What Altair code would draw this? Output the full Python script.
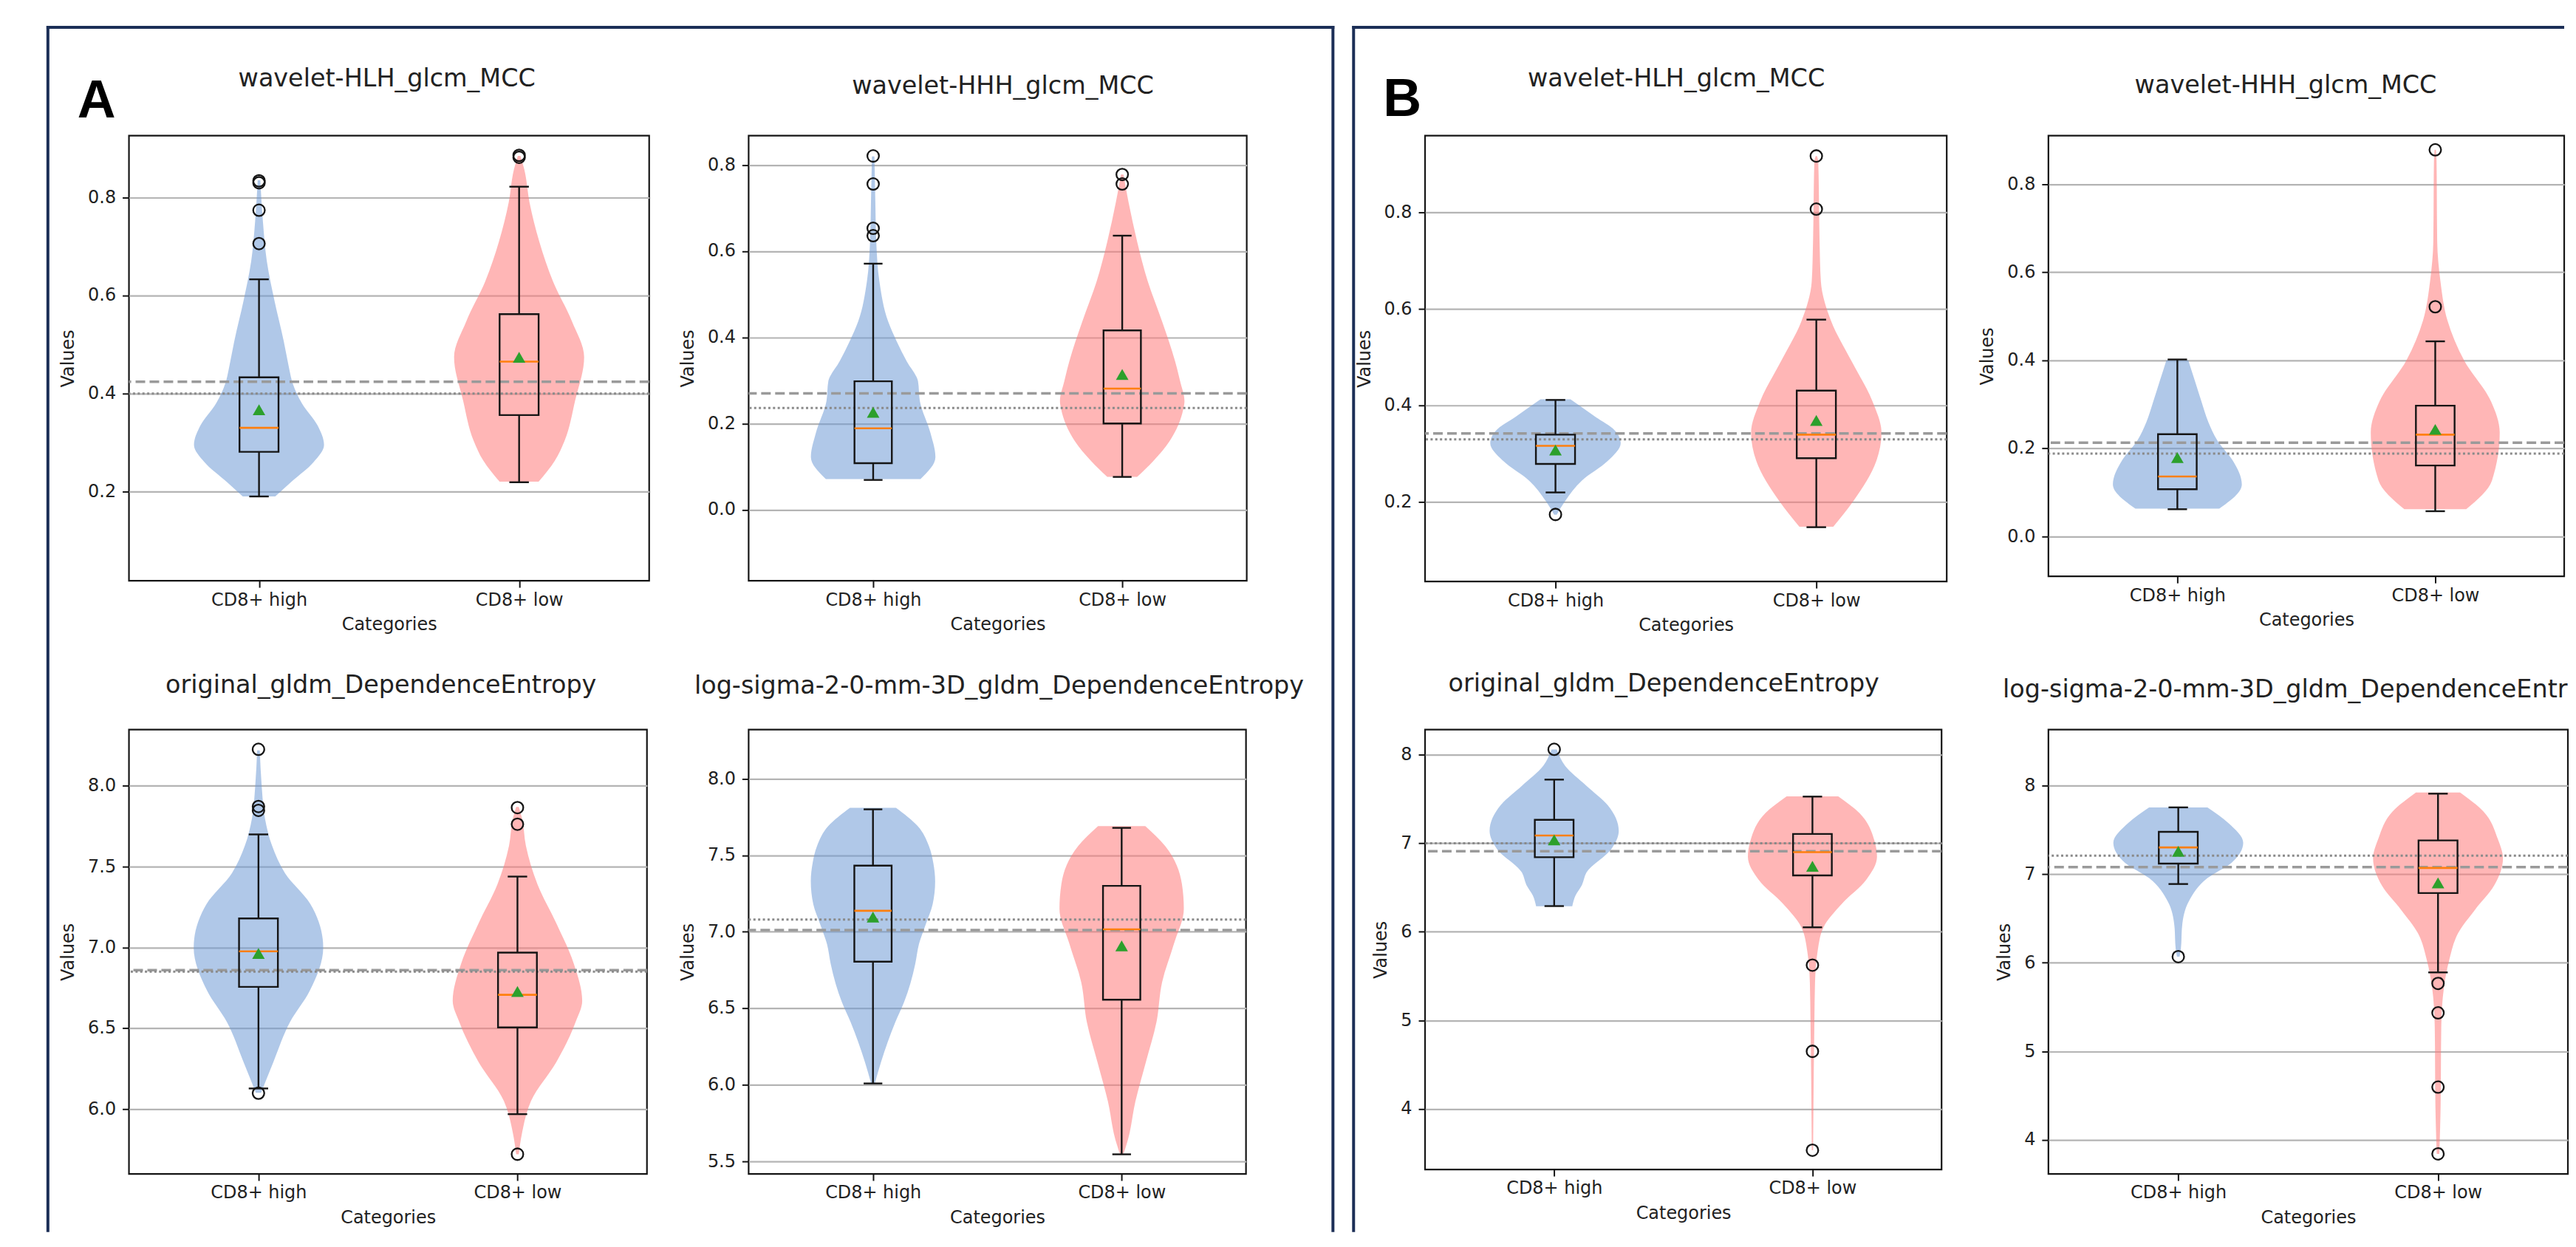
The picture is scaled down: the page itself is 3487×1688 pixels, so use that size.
import altair as alt
import pandas as pd

# ---------------- data ----------------
CATEGORIES = ["CD8+ high", "CD8+ low"]
POSITIONS = [1, 2]
COHORT_LABELS = ["A", "B"]
X_TITLE = "Categories"
Y_TITLE = "Values"
FEATURES = [
    "wavelet-HLH_glcm_MCC",
    "wavelet-HHH_glcm_MCC",
    "original_gldm_DependenceEntropy",
    "log-sigma-2-0-mm-3D_gldm_DependenceEntropy",
]

# stats order: lower whisker, Q1, median, Q3, upper whisker, mean
# violin profiles: (value, relative half-width 0..1)
# reference lines: (dashed, dotted)

# ---- cohort A ----
A_HLH_DOMAIN = [0.018, 0.926]
A_HLH_TICKS = [0.2, 0.4, 0.6, 0.8]
A_HLH_HIGH_STATS = [0.190, 0.281, 0.330, 0.433, 0.633, 0.367]
A_HLH_LOW_STATS = [0.219, 0.356, 0.465, 0.562, 0.822, 0.474]
A_HLH_HIGH_OUT = [0.706, 0.774, 0.830, 0.834]
A_HLH_LOW_OUT = [0.882, 0.886]
A_HLH_HIGH_VIOLIN = [(0.19, 0.25), (0.22, 0.5), (0.26, 0.84), (0.295, 1.0), (0.335, 0.9), (0.38, 0.66),
                     (0.42, 0.52), (0.46, 0.45), (0.507, 0.38), (0.588, 0.24), (0.67, 0.12), (0.751, 0.06),
                     (0.835, 0.02)]
A_HLH_LOW_VIOLIN = [(0.22, 0.3), (0.263, 0.55), (0.304, 0.7), (0.385, 0.86), (0.474, 1.0), (0.548, 0.81),
                    (0.629, 0.52), (0.71, 0.31), (0.79, 0.16), (0.857, 0.08), (0.885, 0.02)]
A_HLH_REF = [0.424, 0.400]

A_HHH_DOMAIN = [-0.165, 0.868]
A_HHH_TICKS = [0.0, 0.2, 0.4, 0.6, 0.8]
A_HHH_HIGH_STATS = [0.069, 0.108, 0.189, 0.298, 0.571, 0.226]
A_HHH_LOW_STATS = [0.076, 0.200, 0.281, 0.416, 0.636, 0.314]
A_HHH_HIGH_OUT = [0.636, 0.653, 0.756, 0.821]
A_HHH_LOW_OUT = [0.756, 0.778]
A_HHH_HIGH_VIOLIN = [(0.071, 0.76), (0.122, 1.0), (0.178, 0.92), (0.252, 0.75), (0.298, 0.72), (0.344, 0.54),
                     (0.39, 0.38), (0.437, 0.24), (0.53, 0.1), (0.622, 0.05), (0.715, 0.035), (0.82, 0.02)]
A_HHH_LOW_VIOLIN = [(0.076, 0.24), (0.113, 0.5), (0.159, 0.76), (0.233, 0.98), (0.252, 1.0), (0.298, 0.93),
                    (0.344, 0.85), (0.437, 0.64), (0.53, 0.41), (0.622, 0.24), (0.715, 0.1), (0.778, 0.02)]
A_HHH_REF = [0.270, 0.236]

A_ORIG_DOMAIN = [5.598, 8.349]
A_ORIG_TICKS = [6.0, 6.5, 7.0, 7.5, 8.0]
A_ORIG_HIGH_STATS = [6.127, 6.756, 6.976, 7.180, 7.700, 6.963]
A_ORIG_LOW_STATS = [5.968, 6.505, 6.707, 6.968, 7.439, 6.727]
A_ORIG_HIGH_OUT = [6.098, 7.849, 7.873, 8.227]
A_ORIG_LOW_OUT = [5.720, 7.763, 7.866]
A_ORIG_HIGH_VIOLIN = [(6.10, 0.04), (6.29, 0.23), (6.54, 0.49), (6.73, 0.79), (7.0, 1.0), (7.27, 0.8),
                      (7.46, 0.41), (7.63, 0.21), (7.80, 0.1), (8.0, 0.05), (8.22, 0.02)]
A_ORIG_LOW_VIOLIN = [(5.72, 0.02), (5.85, 0.07), (6.05, 0.21), (6.29, 0.6), (6.54, 0.9), (6.67, 1.0),
                     (6.90, 0.87), (7.15, 0.6), (7.39, 0.31), (7.63, 0.13), (7.80, 0.07), (7.87, 0.02)]
A_ORIG_REF = [6.859, 6.850]

A_LOG_DOMAIN = [5.418, 8.321]
A_LOG_TICKS = [5.5, 6.0, 6.5, 7.0, 7.5, 8.0]
A_LOG_HIGH_STATS = [6.009, 6.805, 7.137, 7.432, 7.800, 7.096]
A_LOG_LOW_STATS = [5.546, 6.556, 7.016, 7.300, 7.679, 6.908]
A_LOG_HIGH_OUT = []
A_LOG_LOW_OUT = []
A_LOG_HIGH_VIOLIN = [(6.01, 0.03), (6.15, 0.13), (6.41, 0.36), (6.54, 0.5), (6.66, 0.6), (6.79, 0.68),
                     (6.92, 0.74), (7.05, 0.85), (7.18, 0.96), (7.33, 1.0), (7.45, 0.97), (7.56, 0.9),
                     (7.69, 0.72), (7.81, 0.37)]
A_LOG_LOW_VIOLIN = [(5.55, 0.03), (5.64, 0.1), (5.89, 0.22), (6.15, 0.39), (6.41, 0.56), (6.67, 0.65),
                    (6.92, 0.84), (7.15, 1.0), (7.31, 0.97), (7.56, 0.7), (7.69, 0.38)]
A_LOG_REF = [7.011, 7.080]

# ---- cohort B ----
B_HLH_DOMAIN = [0.0355, 0.959]
B_HLH_TICKS = [0.2, 0.4, 0.6, 0.8]
B_HLH_HIGH_STATS = [0.220, 0.279, 0.3165, 0.3397, 0.4116, 0.308]
B_HLH_LOW_STATS = [0.148, 0.291, 0.3397, 0.431, 0.578, 0.369]
B_HLH_HIGH_OUT = [0.1744]
B_HLH_LOW_OUT = [0.807, 0.917]
B_HLH_HIGH_VIOLIN = [(0.174, 0.02), (0.2025, 0.15), (0.244, 0.4), (0.285, 0.8), (0.322, 1.0), (0.35, 0.9),
                     (0.376, 0.62), (0.413, 0.23)]
B_HLH_LOW_VIOLIN = [(0.149, 0.26), (0.2025, 0.57), (0.285, 0.92), (0.343, 1.0), (0.409, 0.86), (0.492, 0.54),
                    (0.574, 0.23), (0.657, 0.07), (0.74, 0.05), (0.905, 0.03), (0.917, 0.01)]
B_HLH_REF = [0.342, 0.330]

B_HHH_DOMAIN = [-0.0907, 0.910]
B_HHH_TICKS = [0.0, 0.2, 0.4, 0.6, 0.8]
B_HHH_HIGH_STATS = [0.0617, 0.107, 0.136, 0.232, 0.4018, 0.179]
B_HHH_LOW_STATS = [0.0572, 0.161, 0.231, 0.297, 0.443, 0.243]
B_HHH_HIGH_OUT = []
B_HHH_LOW_OUT = [0.5215, 0.878]
B_HHH_HIGH_VIOLIN = [(0.063, 0.65), (0.118, 1.0), (0.172, 0.86), (0.218, 0.62), (0.26, 0.48), (0.308, 0.37),
                     (0.354, 0.27), (0.40, 0.17)]
B_HHH_LOW_VIOLIN = [(0.0617, 0.48), (0.127, 0.88), (0.236, 1.0), (0.308, 0.86), (0.399, 0.45), (0.49, 0.19),
                    (0.58, 0.08), (0.67, 0.03), (0.853, 0.02), (0.878, 0.01)]
B_HHH_REF = [0.213, 0.188]

B_ORIG_DOMAIN = [3.315, 8.285]
B_ORIG_TICKS = [4, 5, 6, 7, 8]
B_ORIG_HIGH_STATS = [6.291, 6.843, 7.088, 7.266, 7.720, 7.039]
B_ORIG_LOW_STATS = [6.051, 6.638, 6.900, 7.106, 7.528, 6.740]
B_ORIG_HIGH_OUT = [8.062]
B_ORIG_LOW_OUT = [3.533, 4.650, 5.624]
B_ORIG_HIGH_VIOLIN = [(6.29, 0.28), (6.41, 0.33), (6.53, 0.43), (6.67, 0.5), (6.94, 0.89), (7.14, 1.0),
                      (7.43, 0.83), (7.65, 0.5), (7.875, 0.17), (8.06, 0.04)]
B_ORIG_LOW_VIOLIN = [(3.533, 0.01), (4.98, 0.03), (5.43, 0.04), (5.78, 0.08), (6.05, 0.17), (6.32, 0.46),
                     (6.585, 0.83), (6.85, 1.0), (7.03, 0.96), (7.34, 0.73), (7.53, 0.4)]
B_ORIG_REF = [6.91, 7.00]

B_LOG_DOMAIN = [3.614, 8.635]
B_LOG_TICKS = [4, 5, 6, 7, 8]
B_LOG_HIGH_STATS = [6.890, 7.121, 7.303, 7.480, 7.756, 7.259]
B_LOG_LOW_STATS = [5.891, 6.788, 7.072, 7.383, 7.911, 6.903]
B_LOG_HIGH_OUT = [6.069]
B_LOG_LOW_OUT = [3.840, 4.595, 5.434, 5.767]
B_LOG_HIGH_VIOLIN = [(6.069, 0.02), (6.16, 0.04), (6.42, 0.06), (6.69, 0.16), (6.957, 0.45), (7.13, 0.82),
                     (7.356, 1.0), (7.58, 0.77), (7.756, 0.45)]
B_LOG_LOW_VIOLIN = [(3.84, 0.02), (4.38, 0.04), (5.27, 0.05), (5.714, 0.09), (6.024, 0.17), (6.335, 0.31),
                    (6.60, 0.57), (6.868, 0.86), (7.18, 1.0), (7.40, 0.92), (7.71, 0.7), (7.925, 0.34)]
B_LOG_REF = [7.081, 7.21]

# ---------------- styling ----------------
FONT = "DejaVu Sans"
TEXT_COLOR = "#222222"
VIOLIN_COLORS = ["#6f9bd5", "#ff7a7a"]
VIOLIN_OPACITY = 0.55
BOX_COLOR = "#151515"
MEDIAN_COLOR = "#ff7f0e"
MEAN_COLOR = "#2ca02c"
GRID_COLOR = "#b4b4b4"
FRAME_COLOR = "#1c2f57"
HALF_BOX = 0.075
HALF_CAP = 0.0375
HALF_VIOLIN = 0.25


def stats_frame(stats_h, stats_l):
    rows = []
    for cat, pos, s in [(CATEGORIES[0], POSITIONS[0], stats_h), (CATEGORIES[1], POSITIONS[1], stats_l)]:
        rows.append({"cat": cat, "pos": pos, "wlo": s[0], "q1": s[1], "med": s[2],
                     "q3": s[3], "whi": s[4], "mean": s[5]})
    return pd.DataFrame(rows)


def make_panel(title, domain, ticks, fmt, stats_h, stats_l, out_h, out_l, vio_h, vio_l, ref,
               w, h, tx, ty, talign="center", tlimit=0, extras=()):
    xs = alt.Scale(domain=[0.5, 2.5], nice=False, zero=False)
    ys = alt.Scale(domain=domain, nice=False, zero=False)
    label_expr = f"datum.value == {POSITIONS[0]} ? '{CATEGORIES[0]}' : '{CATEGORIES[1]}'"
    xaxis = alt.Axis(values=POSITIONS, labelExpr=label_expr, grid=False, domain=False,
                     tickSize=9, tickWidth=2, tickColor=BOX_COLOR, labelPadding=5,
                     labelFont=FONT, labelFontSize=24, labelColor=TEXT_COLOR,
                     title=X_TITLE, titleFont=FONT, titleFontSize=24, titleFontWeight="normal",
                     titleColor=TEXT_COLOR, titlePadding=10)
    yaxis = alt.Axis(values=ticks, format=fmt, grid=True, gridColor=GRID_COLOR, gridWidth=2.2,
                     domain=False, tickSize=9, tickWidth=2, tickColor=BOX_COLOR, labelPadding=9,
                     labelFont=FONT, labelFontSize=24, labelColor=TEXT_COLOR,
                     title=Y_TITLE, titleFont=FONT, titleFontSize=24, titleFontWeight="normal",
                     titleColor=TEXT_COLOR, titlePadding=14)

    def X(field):
        return alt.X(field, scale=xs, axis=xaxis)

    def Y(field):
        return alt.Y(field, scale=ys, axis=yaxis)

    vio_rows = []
    for cat, pos, prof in [(CATEGORIES[0], POSITIONS[0], vio_h), (CATEGORIES[1], POSITIONS[1], vio_l)]:
        for v, f in prof:
            vio_rows.append({"cat": cat, "pos": pos, "value": v, "frac": f})
    violin = alt.Chart(pd.DataFrame(vio_rows)).transform_calculate(
        lo=f"datum.pos - {HALF_VIOLIN} * datum.frac",
        hi=f"datum.pos + {HALF_VIOLIN} * datum.frac",
    ).mark_area(orient="horizontal", interpolate="monotone", opacity=VIOLIN_OPACITY).encode(
        y=Y("value:Q"),
        x=X("lo:Q"),
        x2="hi:Q",
        fill=alt.Fill("cat:N", scale=alt.Scale(domain=CATEGORIES, range=VIOLIN_COLORS), legend=None),
        detail="cat:N",
    )

    dashed = alt.Chart(pd.DataFrame({"value": [ref[0]]})).mark_rule(
        color="#9a9a9a", strokeWidth=3.5, strokeDash=[13, 6]).encode(y=Y("value:Q"))
    dotted = alt.Chart(pd.DataFrame({"value": [ref[1]]})).mark_rule(
        color="#8a8a8a", strokeWidth=3, strokeDash=[3, 3.4]).encode(y=Y("value:Q"))

    base = alt.Chart(stats_frame(stats_h, stats_l)).transform_calculate(
        bl=f"datum.pos - {HALF_BOX}", br=f"datum.pos + {HALF_BOX}",
        cl=f"datum.pos - {HALF_CAP}", cr=f"datum.pos + {HALF_CAP}",
    )
    box = base.mark_rect(fillOpacity=0, stroke=BOX_COLOR, strokeWidth=2.4).encode(
        x=X("bl:Q"), x2="br:Q", y=Y("q1:Q"), y2="q3:Q")
    wh_lo = base.mark_rule(color=BOX_COLOR, strokeWidth=2.4).encode(
        x=X("pos:Q"), y=Y("wlo:Q"), y2="q1:Q")
    wh_hi = base.mark_rule(color=BOX_COLOR, strokeWidth=2.4).encode(
        x=X("pos:Q"), y=Y("q3:Q"), y2="whi:Q")
    cap_lo = base.mark_rule(color=BOX_COLOR, strokeWidth=2.4).encode(
        x=X("cl:Q"), x2="cr:Q", y=Y("wlo:Q"))
    cap_hi = base.mark_rule(color=BOX_COLOR, strokeWidth=2.4).encode(
        x=X("cl:Q"), x2="cr:Q", y=Y("whi:Q"))
    median = base.mark_rule(color=MEDIAN_COLOR, strokeWidth=2.6).encode(
        x=X("bl:Q"), x2="br:Q", y=Y("med:Q"))
    mean = base.mark_point(shape="triangle-up", filled=True, color=MEAN_COLOR, size=290, opacity=1).encode(
        x=X("pos:Q"), y=Y("mean:Q"))

    layers = [violin, dashed, dotted, box, wh_lo, wh_hi, cap_lo, cap_hi, median, mean]

    out_rows = [{"pos": POSITIONS[0], "value": v} for v in out_h] + \
               [{"pos": POSITIONS[1], "value": v} for v in out_l]
    if out_rows:
        outliers = alt.Chart(pd.DataFrame(out_rows)).mark_point(
            shape="circle", filled=False, color=BOX_COLOR, strokeWidth=2.3, size=250, opacity=1).encode(
            x=X("pos:Q"), y=Y("value:Q"))
        layers.append(outliers)

    tkw = dict(font=FONT, fontSize=33.5, color=TEXT_COLOR, align=talign, baseline="middle")
    if tlimit:
        tkw.update(limit=tlimit, ellipsis="\u200b")
    title_layer = alt.Chart(pd.DataFrame({"t": [title]})).mark_text(**tkw).encode(
        text="t:N", x=alt.value(tx), y=alt.value(ty))
    layers.append(title_layer)
    layers.extend(extras)

    return alt.layer(*layers).properties(
        width=w, height=h,
        view=alt.ViewBackground(stroke=BOX_COLOR, strokeWidth=2.2),
    )


def frame_layers(letter, left, right, top, bottom, letter_x, letter_y):
    dummy = pd.DataFrame({"k": [0]})
    kw = dict(color=FRAME_COLOR, strokeWidth=4, strokeCap="square")
    lay = [
        alt.Chart(dummy).mark_rule(**kw).encode(x=alt.value(left), y=alt.value(top), y2=alt.value(bottom)),
        alt.Chart(dummy).mark_rule(**kw).encode(x=alt.value(left), x2=alt.value(right), y=alt.value(top)),
    ]
    if letter == COHORT_LABELS[0]:
        lay.append(alt.Chart(dummy).mark_rule(**kw).encode(
            x=alt.value(right), y=alt.value(top), y2=alt.value(bottom)))
    lay.append(alt.Chart(pd.DataFrame({"t": [letter]})).mark_text(
        font="Liberation Sans", fontWeight="bold", fontSize=72, color="#000000",
        align="center", baseline="alphabetic").encode(
        text="t:N", x=alt.value(letter_x), y=alt.value(letter_y)))
    return lay


def spacer(w):
    return alt.Chart(pd.DataFrame({"k": [0]})).mark_point(opacity=0).encode(
        x=alt.value(0), y=alt.value(0)).properties(width=w, height=1)


frame_a = frame_layers(COHORT_LABELS[0], -110, 1634, -147, 1486, -44, -25)
frame_b = frame_layers(COHORT_LABELS[1], -97, 1544, -147, 1486, -31, -27)

a1 = make_panel(FEATURES[0], A_HLH_DOMAIN, A_HLH_TICKS, ".1f", A_HLH_HIGH_STATS, A_HLH_LOW_STATS,
                A_HLH_HIGH_OUT, A_HLH_LOW_OUT, A_HLH_HIGH_VIOLIN, A_HLH_LOW_VIOLIN, A_HLH_REF,
                706, 604, 350, -77, extras=frame_a)
a2 = make_panel(FEATURES[1], A_HHH_DOMAIN, A_HHH_TICKS, ".1f", A_HHH_HIGH_STATS, A_HHH_LOW_STATS,
                A_HHH_HIGH_OUT, A_HHH_LOW_OUT, A_HHH_HIGH_VIOLIN, A_HHH_LOW_VIOLIN, A_HHH_REF,
                676, 604, 345, -67)
a3 = make_panel(FEATURES[2], A_ORIG_DOMAIN, A_ORIG_TICKS, ".1f", A_ORIG_HIGH_STATS, A_ORIG_LOW_STATS,
                A_ORIG_HIGH_OUT, A_ORIG_LOW_OUT, A_ORIG_HIGH_VIOLIN, A_ORIG_LOW_VIOLIN, A_ORIG_REF,
                703, 603, 342, -60)
a4 = make_panel(FEATURES[3], A_LOG_DOMAIN, A_LOG_TICKS, ".1f", A_LOG_HIGH_STATS, A_LOG_LOW_STATS,
                A_LOG_HIGH_OUT, A_LOG_LOW_OUT, A_LOG_HIGH_VIOLIN, A_LOG_LOW_VIOLIN, A_LOG_REF,
                675, 603, 340, -59)
b1 = make_panel(FEATURES[0], B_HLH_DOMAIN, B_HLH_TICKS, ".1f", B_HLH_HIGH_STATS, B_HLH_LOW_STATS,
                B_HLH_HIGH_OUT, B_HLH_LOW_OUT, B_HLH_HIGH_VIOLIN, B_HLH_LOW_VIOLIN, B_HLH_REF,
                708, 605, 341, -77, extras=frame_b)
b2 = make_panel(FEATURES[1], B_HHH_DOMAIN, B_HHH_TICKS, ".1f", B_HHH_HIGH_STATS, B_HHH_LOW_STATS,
                B_HHH_HIGH_OUT, B_HHH_LOW_OUT, B_HHH_HIGH_VIOLIN, B_HHH_LOW_VIOLIN, B_HHH_REF,
                700, 598, 322, -68)
b3 = make_panel(FEATURES[2], B_ORIG_DOMAIN, B_ORIG_TICKS, "d", B_ORIG_HIGH_STATS, B_ORIG_LOW_STATS,
                B_ORIG_HIGH_OUT, B_ORIG_LOW_OUT, B_ORIG_HIGH_VIOLIN, B_ORIG_LOW_VIOLIN, B_ORIG_REF,
                701, 597, 324, -62)
b4 = make_panel(FEATURES[3], B_LOG_DOMAIN, B_LOG_TICKS, "d", B_LOG_HIGH_STATS, B_LOG_LOW_STATS,
                B_LOG_HIGH_OUT, B_LOG_LOW_OUT, B_LOG_HIGH_VIOLIN, B_LOG_LOW_VIOLIN, B_LOG_REF,
                705, 603, -62, -54, talign="left", tlimit=780)

cells = [a1, spacer(132), a2, spacer(237), b1, spacer(138), b2,
         a3, spacer(135), a4, spacer(242), b3, spacer(121), b4]

chart = alt.concat(
    *cells, columns=7, align="none", bounds="flush", spacing={"row": 201, "column": 0}
).properties(
    padding={"left": 53, "top": 23, "right": 0, "bottom": 0},
    background="white",
).configure_view(stroke="transparent", strokeWidth=0)

chart.save("out.html", embed_options={"renderer": "svg", "actions": False})
